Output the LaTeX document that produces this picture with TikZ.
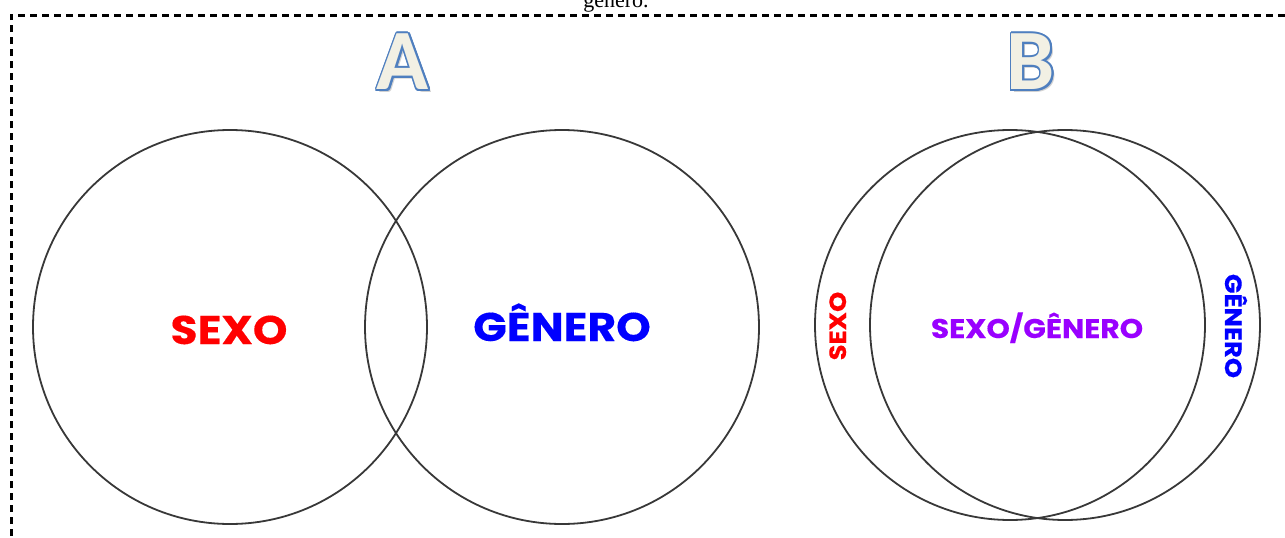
\documentclass[tikz,border=0pt]{standalone}
\usepackage{fontspec}
\setmainfont{Liberation Serif}
\newfontfamily\labelfont{Poppins}[FakeStretch=1.1, FakeBold=0.3]
\newfontfamily\letterfont{Carlito}
\usetikzlibrary{calc}
\definecolor{ringgray}{HTML}{383838}
\definecolor{sexored}{HTML}{FF0000}
\definecolor{generoblue}{HTML}{0000FF}
\definecolor{mixpurple}{HTML}{9900FF}
\definecolor{lettercream}{HTML}{F2F0E4}
\definecolor{letteredge}{HTML}{4F7FBF}
\tikzset{
  frame/.style={line width=3pt, dash pattern=on 7pt off 5pt},
  ring/.style={circle, draw=ringgray, line width=1.8pt, inner sep=0pt, minimum size=#1},
  biglabel/.style={font=\labelfont\bfseries\fontsize{40}{40}\selectfont, inner sep=0pt, anchor=base},
  mixlabel/.style={font=\labelfont\bfseries\fontsize{27}{27}\selectfont, inner sep=0pt, anchor=base},
  sidelabel/.style={font=\labelfont\bfseries\fontsize{23.5}{24}\selectfont, inner sep=0pt, anchor=base},
  letterstyle/.style={font=\letterfont\bfseries\fontsize{86}{86}\selectfont, inner sep=0pt},
}
% outlined panel letter: soft shadow, blue rim, cream face
\newcommand\panelletter[3]{%
  \node[letterstyle, text=black, opacity=0.18] at ($(#2)+(2.5,2.5)$) {#3};
  \foreach \ang in {0,22.5,...,337.5}{
    \node[letterstyle, text=letteredge] at ($(#2)+(\ang:1.9)$) {#3};
  }
  \node[letterstyle, text=lettercream] (#1) at (#2) {#3};
}
\begin{document}
\begin{tikzpicture}[x=1pt,y=-1pt]
\useasboundingbox (0,0) rectangle (1285,538);
\clip (0,0) rectangle (1285,538);

% running text above the frame
\node[anchor=base, font=\fontsize{22}{22}\selectfont, inner sep=0pt] (caption) at (616,7) {gênero.};

% dashed frame
\draw[frame] (11,560) -- (11,15) -- (1300,15);

% panel A
\coordinate (posA) at (403,62);
\panelletter{letterA}{posA}{A}
\node[ring=394pt] (sexoA) at (230,327) {};
\node[ring=394pt] (generoA) at (562,327) {};
\node[biglabel, text=sexored] (sexoTxt) at (229,344) {SEXO};
\node[biglabel, text=generoblue] (generoTxt) at (562,341) {GÊNERO};

% panel B
\coordinate (posB) at (1031,62);
\panelletter{letterB}{posB}{B}
\node[ring=390pt] (sexoB) at (1010,325) {};
\node[ring=390pt] (generoB) at (1065,325) {};
\node[mixlabel, text=mixpurple] (mixTxt) at (1037,338) {SEXO/GÊNERO};
\node[sidelabel, text=sexored, rotate=90] (sexoSide) at (846,326) {SEXO};
\node[sidelabel, text=generoblue, rotate=-90] (generoSide) at (1225,326) {GÊNERO};
\end{tikzpicture}
\end{document}
